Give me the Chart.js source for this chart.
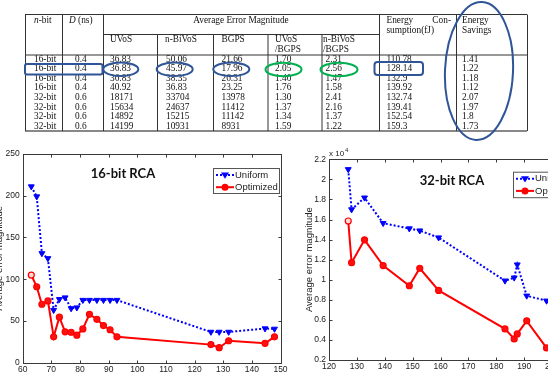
<!DOCTYPE html>
<html>
<head>
<meta charset="utf-8">
<script src="https://cdn.jsdelivr.net/npm/chart.js@4.4.1/dist/chart.umd.min.js"></script>
<style>
html, body { margin: 0; padding: 0; background: #fff; overflow: hidden; width: 548px; height: 372px; }
#tab { position: absolute; left: 0; top: 0; z-index: 2; }
canvas { position: absolute; }
#c16 { left: -8px; top: 140px; }
#c32 { left: 290px; top: 140px; }
</style>
</head>
<body>
<svg id="tab" width="548" height="145" xmlns="http://www.w3.org/2000/svg"></svg>
<canvas id="c16" width="298" height="245"></canvas>
<canvas id="c32" width="300" height="245"></canvas>
<script>
// table rows
var nbit = ['16-bit', '16-bit', '16-bit', '16-bit', '32-bit', '32-bit', '32-bit', '32-bit'];
var dns = ['0.4', '0.4', '0.4', '0.4', '0.6', '0.6', '0.6', '0.6'];
var uvos = ['36.83', '36.83', '36.83', '40.92', '18171', '15634', '14892', '14199'];
var nbivos = ['50.06', '45.97', '38.35', '36.83', '33704', '24637', '15215', '10931'];
var bgps = ['21.66', '17.96', '26.31', '23.25', '13978', '11412', '11142', '8931'];
var uvosBgps = ['1.70', '2.05', '1.40', '1.76', '1.30', '1.37', '1.34', '1.59'];
var nbivosBgps = ['2.31', '2.56', '1.47', '1.58', '2.41', '2.16', '1.37', '1.22'];
var energy = ['110.78', '128.14', '132.9', '139.92', '132.74', '139.41', '152.54', '159.3'];
var savings = ['1.41', '1.22', '1.18', '1.12', '2.07', '1.97', '1.8', '1.73'];

// 16-bit RCA chart
var x16 = [63, 64.9, 66.7, 68.8, 70.8, 72.8, 74.8, 76.9, 78.9, 81, 83.3, 85.9, 88.2, 90.5, 92.9, 125.7, 128.6, 131.9, 144.6, 147.9];
var uniform16 = [211, 199, 131, 125, 63, 76, 78, 65, 66, 75, 75, 75, 75, 75, 75, 36.83, 36.83, 36.83, 40.92, 40.5];
var optimized16 = [105, 91, 70, 74, 31, 54.5, 37, 36.5, 33, 40.5, 58, 52, 44.5, 39.5, 31, 21.66, 17.96, 26.31, 23.25, 31];

// 32-bit RCA chart
var x32 = [126.9, 128.1, 132.74, 139.41, 148.8, 152.54, 159.3, 183.1, 186.4, 187.5, 190.9, 198];
var uniform32 = [21000, 17000, 18171, 15634, 15100, 14892, 14199, 9900, 10200, 11500, 8400, 7900];
var optimized32 = [15850, 11700, 13978, 11412, 9400, 11142, 8931, 5100, 4100, 4600, 5900, 3200];

var seriesNames = ['Uniform', 'Optimized'];

// ---- table drawn as svg ----
var BLUE = '#2f5597', GREEN = '#00b050';
function t(x, y, s, anchor) {
    return '<text transform="translate(' + x + ',' + y + ') scale(0.88,1)"' +
        (anchor ? ' text-anchor="' + anchor + '"' : '') + '>' + s + '</text>';
}
function ln(x1, y1, x2, y2, c, w) {
    return '<line x1="' + x1 + '" y1="' + y1 + '" x2="' + x2 + '" y2="' + y2 +
        '" stroke="' + (c || '#333') + '" stroke-width="' + (w || 1) + '"/>';
}
var s = '<g font-family="Liberation Serif" font-size="10.6" fill="#111">';
s += t(34, 23, '<tspan font-style="italic">n</tspan>-bit');
s += t(69, 23, '<tspan font-style="italic">D</tspan> (ns)');
s += t(241, 23, 'Average Error Magnitude', 'middle');
s += t(110, 42, 'UVoS') + t(165, 42, 'n-BiVoS') + t(221.5, 42, 'BGPS');
s += t(275, 42, 'UVoS') + t(275, 52, '/BGPS');
s += t(323, 42, 'n-BiVoS') + t(323, 52, '/BGPS');
s += t(386.5, 23, 'Energy') + t(451, 23, 'Con-', 'end') + t(386.5, 32.5, 'sumption(fJ)');
s += t(462, 23, 'Energy') + t(462, 32.5, 'Savings');
var cols = [nbit, dns, uvos, nbivos, bgps, uvosBgps, nbivosBgps, energy, savings];
var colX = [34, 75, 110, 166, 221.5, 275, 325.5, 386.5, 462];
for (var c = 0; c < cols.length; c++) {
    for (var r = 0; r < cols[c].length; r++) {
        s += t(colX[c], 61.5 + 9.6 * r, cols[c][r]);
    }
}
s += '</g>';
s += ln(25, 14.5, 527, 14.5) + ln(103, 34.5, 379, 34.5) + ln(25, 55, 527, 55) + ln(25, 131, 527, 131, '#888', 2);
[25, 62, 103, 379, 456, 527].forEach(function (x) { s += ln(x + 0.5, 14.5, x + 0.5, 131); });
[157, 213, 267.5, 321.5].forEach(function (x) { s += ln(x + 0.5, 34.5, x + 0.5, 131); });
s += '<g fill="none" stroke-width="2">';
s += '<rect x="25" y="64" width="77.5" height="10.5" rx="2" stroke="' + BLUE + '"/>';
s += '<ellipse cx="120.8" cy="69.3" rx="17.5" ry="6.8" stroke="' + BLUE + '"/>';
s += '<ellipse cx="174.7" cy="69.3" rx="18" ry="6.8" stroke="' + BLUE + '"/>';
s += '<ellipse cx="231.3" cy="69.3" rx="18" ry="6.8" stroke="' + BLUE + '"/>';
s += '<ellipse cx="283.5" cy="69.5" rx="18" ry="6.8" stroke="' + GREEN + '"/>';
s += '<ellipse cx="339" cy="69.5" rx="18.5" ry="6.8" stroke="' + GREEN + '"/>';
s += '<rect x="374.5" y="62" width="48.5" height="13" rx="3" stroke="' + BLUE + '"/>';
s += '<ellipse cx="479" cy="71" rx="34" ry="69" transform="rotate(2.5 479 71)" stroke="' + BLUE + '"/>';
s += '</g>';
document.getElementById('tab').innerHTML = s;

// ---- charts ----
function pts(xs, ys) {
    return xs.map(function (x, i) { return { x: x, y: ys[i] }; });
}

function drawTri(ctx, x, y, r) {
    ctx.beginPath();
    ctx.moveTo(x - r, y - r * 0.6);
    ctx.lineTo(x + r, y - r * 0.6);
    ctx.lineTo(x, y + r * 0.95);
    ctx.closePath();
    ctx.fill();
}

// MATLAB style box, inward ticks, title and legend
var matlabBox = {
    id: 'matlabBox',
    afterDraw: function (chart) {
        var o = chart.options.plugins.matlabBox;
        var ctx = chart.ctx, a = chart.chartArea;
        var xs = chart.scales.x, ys = chart.scales.y;
        ctx.save();
        ctx.strokeStyle = '#3a3a3a';
        ctx.lineWidth = 1;
        var L = Math.round(a.left) + 0.5, R = Math.round(a.right) + 0.5;
        var T = Math.round(a.top) + 0.5, B = Math.round(a.bottom) + 0.5;
        ctx.strokeRect(L, T, R - L, B - T);
        ctx.beginPath();
        xs.ticks.forEach(function (tk) {
            var p = Math.round(xs.getPixelForValue(tk.value)) + 0.5;
            ctx.moveTo(p, B); ctx.lineTo(p, B - 3);
            ctx.moveTo(p, T); ctx.lineTo(p, T + 3);
        });
        ys.ticks.forEach(function (tk) {
            var p = Math.round(ys.getPixelForValue(tk.value)) + 0.5;
            ctx.moveTo(L, p); ctx.lineTo(L + 3, p);
            ctx.moveTo(R, p); ctx.lineTo(R - 3, p);
        });
        ctx.stroke();

        // title inside the axes
        ctx.fillStyle = '#111';
        ctx.font = 'bold 13px Lato';
        ctx.textAlign = 'center';
        ctx.textBaseline = 'middle';
        ctx.fillText(o.title, o.titleX, o.titleY);

        // exponent label
        if (o.exponent) {
            ctx.font = '8px "Liberation Sans"';
            ctx.textAlign = 'left';
            ctx.fillStyle = '#222';
            ctx.fillText('x 10', a.left, a.top - 6);
            var w = ctx.measureText('x 10').width;
            ctx.font = '6px "Liberation Sans"';
            ctx.fillText(o.exponent, a.left + w + 1, a.top - 9);
        }

        // legend
        var lg = o.legend;
        ctx.fillStyle = '#fff';
        ctx.fillRect(lg.x, lg.y, lg.w, lg.h);
        ctx.strokeStyle = '#555';
        ctx.strokeRect(lg.x + 0.5, lg.y + 0.5, lg.w, lg.h);
        ctx.font = '9.5px "Liberation Sans"';
        ctx.textAlign = 'left';
        chart.data.datasets.forEach(function (ds, i) {
            var yy = lg.y + 7 + i * 12.2;
            ctx.strokeStyle = ds.borderColor;
            ctx.lineWidth = 2;
            ctx.setLineDash(ds.borderDash || []);
            ctx.beginPath();
            ctx.moveTo(lg.x + 3, yy);
            ctx.lineTo(lg.x + 21, yy);
            ctx.stroke();
            ctx.setLineDash([]);
            ctx.fillStyle = ds.borderColor;
            if (i === 0) {
                drawTri(ctx, lg.x + 12, yy, 4);
            } else {
                ctx.beginPath();
                ctx.arc(lg.x + 12, yy, 3.5, 0, Math.PI * 2);
                ctx.fill();
            }
            ctx.fillStyle = '#222';
            ctx.fillText(ds.label, lg.x + 22, yy);
        });
        ctx.restore();
    }
};

function makeChart(id, xs, uni, opt, xr, yr, area, box) {
    var ctx = document.getElementById(id).getContext('2d');
    return new Chart(ctx, {
        type: 'line',
        data: {
            datasets: [
                {
                    label: seriesNames[0],
                    data: pts(xs, uni),
                    borderColor: '#0000ff',
                    backgroundColor: '#0000ff',
                    borderWidth: 2,
                    borderDash: [2, 2],
                    pointStyle: 'triangle',
                    rotation: 180,
                    pointRadius: 3.4,
                    pointBorderWidth: 1,
                    tension: 0
                },
                {
                    label: seriesNames[1],
                    data: pts(xs, opt),
                    borderColor: '#ff0000',
                    backgroundColor: function (c) { return c.dataIndex === 0 ? '#ffd8d8' : '#ff1010'; },
                    borderWidth: 2,
                    pointStyle: 'circle',
                    pointRadius: 3,
                    pointBorderWidth: 1.2,
                    tension: 0
                }
            ]
        },
        options: {
            responsive: false,
            animation: false,
            events: [],
            layout: { padding: area.padding },
            plugins: {
                legend: { display: false },
                tooltip: { enabled: false },
                matlabBox: box
            },
            scales: {
                x: {
                    type: 'linear',
                    min: xr[0], max: xr[1],
                    grid: { display: false, drawTicks: false },
                    border: { display: false },
                    ticks: { stepSize: xr[2], padding: area.xPad, color: '#222', font: { family: 'Liberation Sans', size: 8.5 } },
                    afterFit: function (sc) { sc.height = area.xH; }
                },
                y: {
                    min: yr[0], max: yr[1],
                    grid: { display: false, drawTicks: false },
                    border: { display: false },
                    ticks: { stepSize: yr[2], padding: 3, color: '#222', font: { family: 'Liberation Sans', size: 8.5 }, callback: yr[3] },
                    title: { display: true, text: 'Average error magnitude', color: '#222', font: { family: 'Liberation Sans', size: 9.5 }, padding: { top: area.titlePad, bottom: 0 } },
                    afterFit: function (sc) { sc.width = area.yW; }
                }
            }
        },
        plugins: [matlabBox]
    });
}

makeChart('c16', x16, uniform16, optimized16,
    [60, 150, 10], [0, 250, 50],
    { padding: { top: 14, right: 9.5, bottom: 0, left: 0 }, xH: 22.3, yW: 30.7, xPad: 2, titlePad: 1.2 },
    { title: '16-bit RCA', titleX: 131, titleY: 34, legend: { x: 221, y: 28, w: 66, h: 25 } });

makeChart('c32', x32, uniform32, optimized32,
    [120, 210, 10], [2000, 22000, 2000, function (v) { return String(Math.round(v / 1000) / 10); }],
    { padding: { top: 19.3, right: 10, bottom: 0, left: 0 }, xH: 25, yW: 39, xPad: 1.5, titlePad: 13.3 },
    { title: '32-bit RCA', titleX: 162, titleY: 40.5, exponent: '4', legend: { x: 223, y: 31.7, w: 66, h: 25.5 } });
</script>
</body>
</html>
